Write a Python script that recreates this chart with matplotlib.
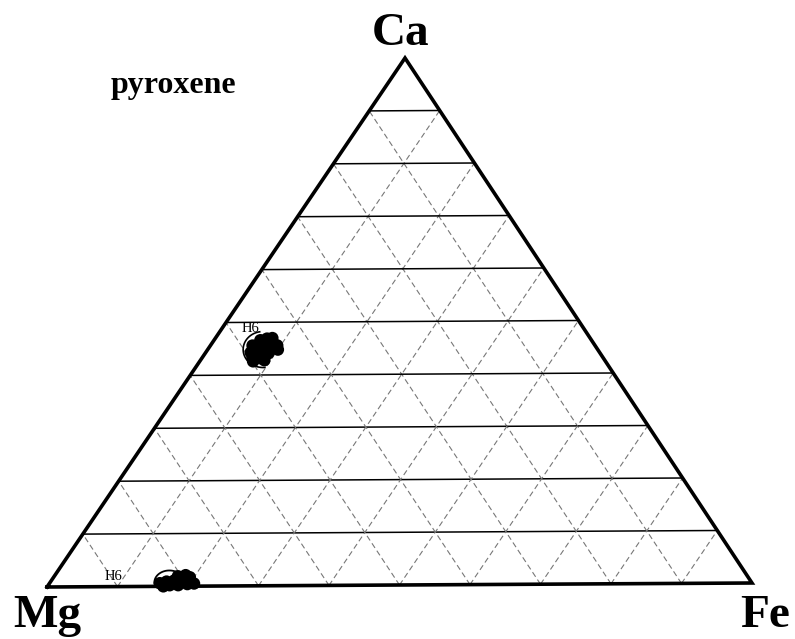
import numpy as np
import matplotlib.pyplot as plt

plt.rcParams['font.family'] = ['Liberation Serif', 'DejaVu Serif']

# corners of the Ca-Mg-Fe triangle on the page, in pixels
MG = np.array([47.0, 587.0])
FE = np.array([752.0, 583.0])
CA = np.array([405.0, 58.0])

# H6 pyroxene analyses (mol %): Ca = Wo, Fe = Fs, the rest is Mg = En
cpx_ca = [45.6, 46.6, 46.2, 45.3, 44.3, 43.8, 44.3, 43.2, 44.1, 45.1, 45.6, 46.9,
          42.6, 44.8, 47.0, 45.6, 42.8, 43.2]
cpx_fe = [6.0, 6.6, 7.8, 9.0, 8.3, 7.6, 6.4, 8.3, 9.0, 6.5, 7.7, 7.4,
          7.6, 10.0, 8.1, 9.5, 9.1, 7.2]
opx_ca = [0.6, 0.9, 1.1, 0.9, 0.4, 0.2, 0.2, 0.0, 1.3, 0.5, 1.9, 2.1, 1.7]
opx_fe = [15.7, 16.5, 17.5, 18.5, 19.7, 17.3, 18.5, 16.5, 18.0, 20.6, 17.6, 18.6, 19.4]

grid_steps = np.arange(10, 100, 10)


def tern(ca, fe):
    ca = np.atleast_1d(np.asarray(ca, float)) / 100
    fe = np.atleast_1d(np.asarray(fe, float)) / 100
    mg = 1 - ca - fe
    p = np.outer(mg, MG) + np.outer(fe, FE) + np.outer(ca, CA)
    return p[:, 0], p[:, 1]


fig = plt.figure(figsize=(7.95, 6.39), dpi=100)
ax = fig.add_axes([0, 0, 1, 1])
ax.set_xlim(0, 795)
ax.set_ylim(639, 0)
ax.axis('off')

# grid: solid lines of constant Ca, dashed lines of constant Fe and Mg
for s in grid_steps:
    x, y = tern([s, s], [0, 100 - s])
    ax.plot(x, y, color='black', lw=1.1, zorder=1)
    x, y = tern([0, 100 - s], [s, s])
    ax.plot(x, y, color='#777777', lw=0.8, ls=(0, (5, 3)), zorder=1)
    x, y = tern([0, 100 - s], [100 - s, 0])
    ax.plot(x, y, color='#777777', lw=0.8, ls=(0, (5, 3)), zorder=1)

# outline of the triangle
x, y = tern([0, 0, 100, 0], [0, 100, 0, 0])
ax.plot(x, y, color='black', lw=2.6, solid_joinstyle='miter', zorder=2)

# analyses
for ca, fe in [(cpx_ca, cpx_fe), (opx_ca, opx_fe)]:
    x, y = tern(ca, fe)
    ax.scatter(x, y, s=80, color='black', edgecolors='none', zorder=3)

# hand-drawn field outlines round each group
cx, cy = tern(cpx_ca, cpx_fe)
t = np.radians(np.linspace(100, 275, 60))
ax.plot(cx.mean() + 20 * np.cos(t), cy.mean() - 18 * np.sin(t), color='black', lw=1.2, zorder=3)
ox, oy = tern(opx_ca, opx_fe)
t = np.radians(np.linspace(20, 185, 60))
ax.plot(ox.mean() - 8 + 15 * np.cos(t), oy.mean() + 1 - 12 * np.sin(t), color='black', lw=1.3, zorder=2)

ax.annotate('H6', (cx.mean(), cy.mean()), xytext=(-13, 21), textcoords='offset pixels',
            ha='center', va='center', fontsize=10.5)
ax.annotate('H6', (ox.mean(), oy.mean()), xytext=(-64, 5), textcoords='offset pixels',
            ha='center', va='center', fontsize=10.5)

# corner labels and title
ax.text(CA[0] - 4, 45, 'Ca', fontsize=34, fontweight='bold', ha='center', va='baseline')
ax.text(13, 627, 'Mg', fontsize=34, fontweight='bold', ha='left', va='baseline')
ax.text(740, 627, 'Fe', fontsize=34, fontweight='bold', ha='left', va='baseline')
ax.text(173, 93, 'pyroxene', fontsize=23, fontweight='bold', ha='center', va='baseline')

fig.savefig('out.png', dpi=100)
